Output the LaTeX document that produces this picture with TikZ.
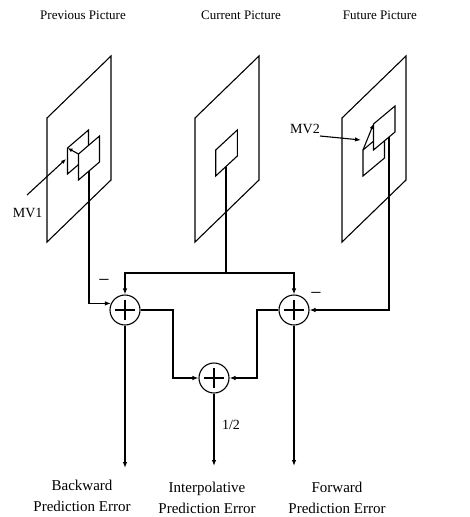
\documentclass[tikz,border=0pt]{standalone}
\usepackage{fontspec}
\setmainfont{Liberation Serif}
\usetikzlibrary{arrows.meta}
\begin{document}
\begin{tikzpicture}[x=1pt,y=-1pt, line width=1.1pt, line join=miter,
  arr/.style={-{Latex[length=6pt,width=4.5pt]}},
  arrS/.style={-{Latex[length=5pt,width=4pt]}},
  summer/.style={circle,draw,minimum size=30pt,inner sep=0pt,
    path picture={
      \draw ([xshift=-10pt]path picture bounding box.center) -- ([xshift=10pt]path picture bounding box.center);
      \draw ([yshift=-10pt]path picture bounding box.center) -- ([yshift=10pt]path picture bounding box.center);}},
  title/.style={font=\fontsize{13}{15}\selectfont, inner sep=0pt},
  lab/.style={font=\fontsize{15}{21}\selectfont, align=center, inner sep=0pt},
  small/.style={font=\fontsize{14}{16}\selectfont, inner sep=0pt},
  sign/.style={font=\fontsize{20}{22}\selectfont, inner sep=0pt}]
\fill[white] (0,0) rectangle (470,517);
\useasboundingbox (0,0) rectangle (470,517);

% titles
\node[title] (tPrev) at (83,15) {Previous Picture};
\node[title] (tCur) at (241,15) {Current Picture};
\node[title] (tFut) at (380,15) {Future Picture};

% previous picture
\draw (47,118) -- (111,56) -- (111,180) -- (47,242) -- cycle;
\draw (67.5,148) -- (88.5,130) -- (88.5,156) -- (67.5,174) -- cycle;
\draw[fill=white] (78.5,154) -- (99.5,136) -- (99.5,162) -- (78.5,180) -- cycle;
\coordinate (bTL) at (78.5,154);
\coordinate (aTL) at (67.5,148);
\draw[arrS] (bTL) -- (aTL);
\coordinate (mv1s) at (27,195);
\coordinate (mv1e) at (66,159);
\draw[arrS] (mv1s) -- (mv1e);
\node[small, anchor=east] (mv1) at (43,213) {MV1};

% current picture
\draw (195,118) -- (259,56) -- (259,180) -- (195,242) -- cycle;
\draw (215.7,150) -- (237.3,130) -- (237.3,156) -- (215.7,176) -- cycle;

% future picture
\draw (342,118) -- (406,56) -- (406,180) -- (342,242) -- cycle;
\draw (363,150) -- (384.5,132) -- (384.5,158) -- (363,176) -- cycle;
\draw[fill=white] (373.5,124) -- (395,106) -- (395,132) -- (373.5,150) -- cycle;
\coordinate (dTL) at (363,150);
\coordinate (cTL) at (373.5,124);
\draw[arrS] (dTL) -- (cTL);
\coordinate (mv2s) at (320,136);
\coordinate (mv2e) at (361,140);
\draw[arr] (mv2s) -- (mv2e);
\node[small] (mv2) at (305,129) {MV2};

% summers
\node[summer] (sumL) at (125,310) {};
\node[summer] (sumR) at (294,310) {};
\node[summer] (sumM) at (214,378) {};

% connections
\coordinate (pOut) at (89,171);
\coordinate (cOut) at (226,166.5);
\coordinate (fOut) at (389,137);
\coordinate (cJ) at (226,273);
\draw (cOut) -- (cJ);
\draw[arr] (cJ) -| (sumL);
\draw[arr] (cJ) -| (sumR);
\draw[arr] (pOut) |- (sumL.155);
\draw[arr] (fOut) |- (sumR);
\coordinate (kL) at (173,310);
\coordinate (kR) at (257,310);
\draw[arr] (sumL) -- (kL) |- (sumM);
\draw[arr] (sumR) -- (kR) |- (sumM);
\coordinate (oL) at (125,468);
\coordinate (oM) at (214,466);
\coordinate (oR) at (294,466);
\draw[arr] (sumL) -- (oL);
\draw[arr] (sumM) -- (oM);
\draw[arr] (sumR) -- (oR);

% signs and labels
\node[sign] (minL) at (104,283) {−};
\node[sign] (minR) at (316,296) {−};
\node[small] (half) at (231,425) {1/2};
\node[lab] (bwd) at (82,496) {Backward\\Prediction Error};
\node[lab] (ipe) at (207,498) {Interpolative\\Prediction Error};
\node[lab] (fwd) at (337,498) {Forward\\Prediction Error};
\end{tikzpicture}
\end{document}
